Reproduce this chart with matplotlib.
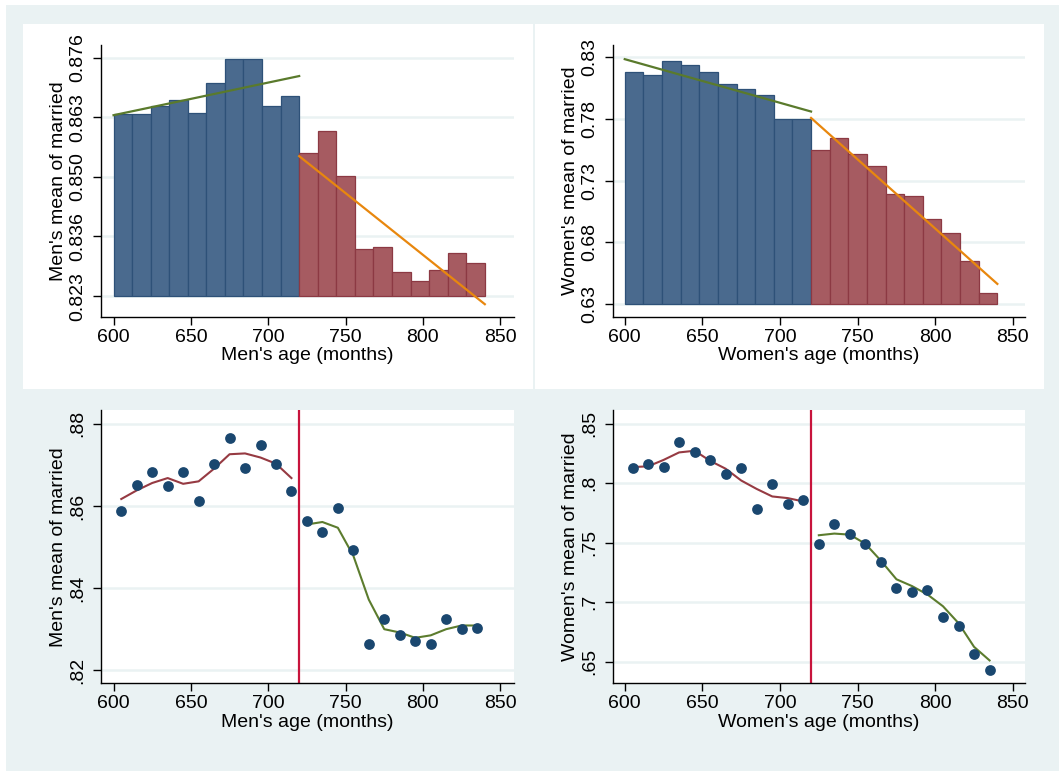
import numpy as np
import matplotlib
matplotlib.use("Agg")
import matplotlib.pyplot as plt
from matplotlib.patches import Rectangle

plt.rcParams['font.family'] = ['Liberation Sans', 'DejaVu Sans']

# ---------------- data ----------------
bin_edges_left = [600, 612, 624, 636, 648, 660, 672, 684, 696, 708,
                  720, 732, 744, 756, 768, 780, 792, 804, 816, 828]
bin_width = 12
cutoff = 720

men_bar_heights = [0.8634, 0.8635, 0.8653, 0.8665, 0.8638, 0.8703, 0.8758, 0.8756, 0.8653, 0.8675,
                   0.8547, 0.8598, 0.8497, 0.8334, 0.8340, 0.8284, 0.8264, 0.8287, 0.8326, 0.8304]
men_bar_base = 0.823
men_fit_left_x = [600, 720]
men_fit_left_y = [0.8632, 0.8719]
men_fit_right_x = [720, 840]
men_fit_right_y = [0.8541, 0.8212]
men_bar_ytick_labels = ['0.823', '0.836', '0.850', '0.863', '0.876']

women_bar_heights = [0.8185, 0.8155, 0.8270, 0.8237, 0.8182, 0.8086, 0.8040, 0.7996, 0.7798, 0.7803,
                     0.7548, 0.7649, 0.7518, 0.7422, 0.7194, 0.7172, 0.6986, 0.6876, 0.6651, 0.6388]
women_bar_base = 0.63
women_fit_left_x = [600, 720]
women_fit_left_y = [0.8286, 0.7861]
women_fit_right_x = [720, 840]
women_fit_right_y = [0.7809, 0.6462]
women_bar_ytick_labels = ['0.63', '0.68', '0.73', '0.78', '0.83']

age_mid = [605, 615, 625, 635, 645, 655, 665, 675, 685, 695, 705, 715,
           725, 735, 745, 755, 765, 775, 785, 795, 805, 815, 825, 835]
men_mean = [0.8588, 0.8651, 0.8683, 0.8648, 0.8683, 0.8612, 0.8702, 0.8766, 0.8693, 0.8749, 0.8703, 0.8637,
            0.8564, 0.8537, 0.8594, 0.8492, 0.8263, 0.8324, 0.8287, 0.8272, 0.8265, 0.8324, 0.8300, 0.8304]
men_lowess_left = [0.8617, 0.8638, 0.8656, 0.8668, 0.8654, 0.8660, 0.8691, 0.8726, 0.8728, 0.8718, 0.8703, 0.8668]
men_lowess_right = [0.8555, 0.8561, 0.8547, 0.8479, 0.8372, 0.8300, 0.8292, 0.8279, 0.8285, 0.8300, 0.8309, 0.8309]

women_mean = [0.8125, 0.8165, 0.8136, 0.8349, 0.8264, 0.8199, 0.8077, 0.8131, 0.7781, 0.7997, 0.7824, 0.7858,
              0.7491, 0.7659, 0.7577, 0.7491, 0.7335, 0.7116, 0.7088, 0.7102, 0.6872, 0.6798, 0.6568, 0.6432]
women_lowess_left = [0.8136, 0.8142, 0.8196, 0.8259, 0.8273, 0.8188, 0.8122, 0.8023, 0.7952, 0.7889, 0.7875, 0.7847]
women_lowess_right = [0.7563, 0.7577, 0.7568, 0.7491, 0.7349, 0.7193, 0.7136, 0.7065, 0.6966, 0.6824, 0.6625, 0.6511]

men_scatter_yticks = [0.82, 0.84, 0.86, 0.88]
men_scatter_ylabels = ['.82', '.84', '.86', '.88']
women_scatter_yticks = [0.65, 0.70, 0.75, 0.80, 0.85]
women_scatter_ylabels = ['.65', '.7', '.75', '.8', '.85']
xticks = [600, 650, 700, 750, 800, 850]

# ---------------- style ----------------
BG = '#EAF2F3'
GRID = '#EAF2F3'
BLUE = '#4A6A8E'
BLUE_E = '#2E5178'
RED = '#A65B61'
RED_E = '#8C3943'
GREEN = '#5A7A2C'
ORANGE = '#E8870E'
NAVY = '#1A476F'
MAROON = '#963A42'
FOREST = '#5C7C2E'
VLINE = '#C8143C'
FS = 14

W, H = 1059, 771
fig = plt.figure(figsize=(W / 100, H / 100), dpi=100)
fig.patch.set_facecolor('white')


def frac_rect(x0, y0, x1, y1):
    return [x0 / W, 1 - y1 / H, (x1 - x0) / W, (y1 - y0) / H]


# outer background and white panels for top row
fig.patches.append(Rectangle((6 / W, 0), 1, 1 - 5 / H, transform=fig.transFigure,
                             facecolor=BG, edgecolor='none', zorder=-10))
for (x0, x1) in [(23, 533), (535, 1044)]:
    fig.patches.append(Rectangle((x0 / W, 1 - 389 / H), (x1 - x0) / W, (389 - 24) / H,
                                 transform=fig.transFigure, facecolor='white',
                                 edgecolor='none', zorder=-9))


def style_axes(ax, yticks, ylabels, ylabel, xlabel):
    ax.set_facecolor('white')
    for s in ['top', 'right']:
        ax.spines[s].set_visible(False)
    for s in ['left', 'bottom']:
        ax.spines[s].set_linewidth(1.0)
        ax.spines[s].set_color('black')
    ax.set_xticks(xticks)
    ax.set_xticklabels([str(v) for v in xticks], fontsize=FS)
    ax.set_yticks(yticks)
    ax.set_yticklabels(ylabels, fontsize=FS, rotation=90, va='center')
    ax.tick_params(axis='both', direction='out', length=5.5, width=1.0, color='black')
    ax.tick_params(axis='x', pad=3)
    ax.tick_params(axis='y', pad=5)
    ax.set_xlabel(xlabel, fontsize=FS, labelpad=1)
    ax.set_ylabel(ylabel, fontsize=FS, labelpad=1.5)
    for yt in yticks:
        ax.axhline(yt, color=GRID, lw=1.8, zorder=0)


# ---- top-left: men bars ----
ax1 = fig.add_axes(frac_rect(100.7, 45, 513.9, 316.8))
mh = np.array(men_bar_heights)
edges = np.array(bin_edges_left)
left_mask = edges < cutoff
ax1.bar(edges[left_mask], mh[left_mask] - men_bar_base, width=bin_width, bottom=men_bar_base,
        align='edge', color=BLUE, edgecolor=BLUE_E, linewidth=0.9, zorder=2)
ax1.bar(edges[~left_mask], mh[~left_mask] - men_bar_base, width=bin_width, bottom=men_bar_base,
        align='edge', color=RED, edgecolor=RED_E, linewidth=0.9, zorder=2)
ax1.plot(men_fit_left_x, men_fit_left_y, color=GREEN, lw=1.6, zorder=3)
ax1.plot(men_fit_right_x, men_fit_right_y, color=ORANGE, lw=1.6, zorder=3)
ax1.set_xlim(591.7, 858.8)
ax1.set_ylim(0.8184, 0.8788)
style_axes(ax1, np.linspace(0.823, 0.876, 5), men_bar_ytick_labels,
           "Men's mean of married", "Men's age (months)")

# ---- top-right: women bars ----
ax2 = fig.add_axes(frac_rect(612.8, 45, 1025.3, 316.8))
wh = np.array(women_bar_heights)
ax2.bar(edges[left_mask], wh[left_mask] - women_bar_base, width=bin_width, bottom=women_bar_base,
        align='edge', color=BLUE, edgecolor=BLUE_E, linewidth=0.9, zorder=2)
ax2.bar(edges[~left_mask], wh[~left_mask] - women_bar_base, width=bin_width, bottom=women_bar_base,
        align='edge', color=RED, edgecolor=RED_E, linewidth=0.9, zorder=2)
ax2.plot(women_fit_left_x, women_fit_left_y, color=GREEN, lw=1.6, zorder=3)
ax2.plot(women_fit_right_x, women_fit_right_y, color=ORANGE, lw=1.6, zorder=3)
ax2.set_xlim(592.3, 858.0)
ax2.set_ylim(0.6195, 0.8401)
style_axes(ax2, np.linspace(0.63, 0.83, 5), women_bar_ytick_labels,
           "Women's mean of married", "Women's age (months)")

am = np.array(age_mid)
lm = am < cutoff

# ---- bottom-left: men scatter ----
ax3 = fig.add_axes(frac_rect(100.7, 410.3, 513.9, 683.4))
ax3.scatter(am, men_mean, s=60, color=NAVY, zorder=3, linewidths=0)
ax3.plot(am[lm], men_lowess_left, color=MAROON, lw=1.5, zorder=2)
ax3.plot(am[~lm], men_lowess_right, color=FOREST, lw=1.5, zorder=2)
ax3.axvline(cutoff, color=VLINE, lw=1.6, zorder=2)
ax3.set_xlim(591.7, 858.8)
ax3.set_ylim(0.8168, 0.8833)
style_axes(ax3, men_scatter_yticks, men_scatter_ylabels,
           "Men's mean of married", "Men's age (months)")

# ---- bottom-right: women scatter ----
ax4 = fig.add_axes(frac_rect(612.8, 410.3, 1025.3, 683.4))
ax4.scatter(am, women_mean, s=60, color=NAVY, zorder=3, linewidths=0)
ax4.plot(am[lm], women_lowess_left, color=MAROON, lw=1.5, zorder=2)
ax4.plot(am[~lm], women_lowess_right, color=FOREST, lw=1.5, zorder=2)
ax4.axvline(cutoff, color=VLINE, lw=1.6, zorder=2)
ax4.set_xlim(592.3, 858.0)
ax4.set_ylim(0.6318, 0.8613)
style_axes(ax4, women_scatter_yticks, women_scatter_ylabels,
           "Women's mean of married", "Women's age (months)")

fig.savefig('out.png', dpi=100, facecolor=fig.get_facecolor())
